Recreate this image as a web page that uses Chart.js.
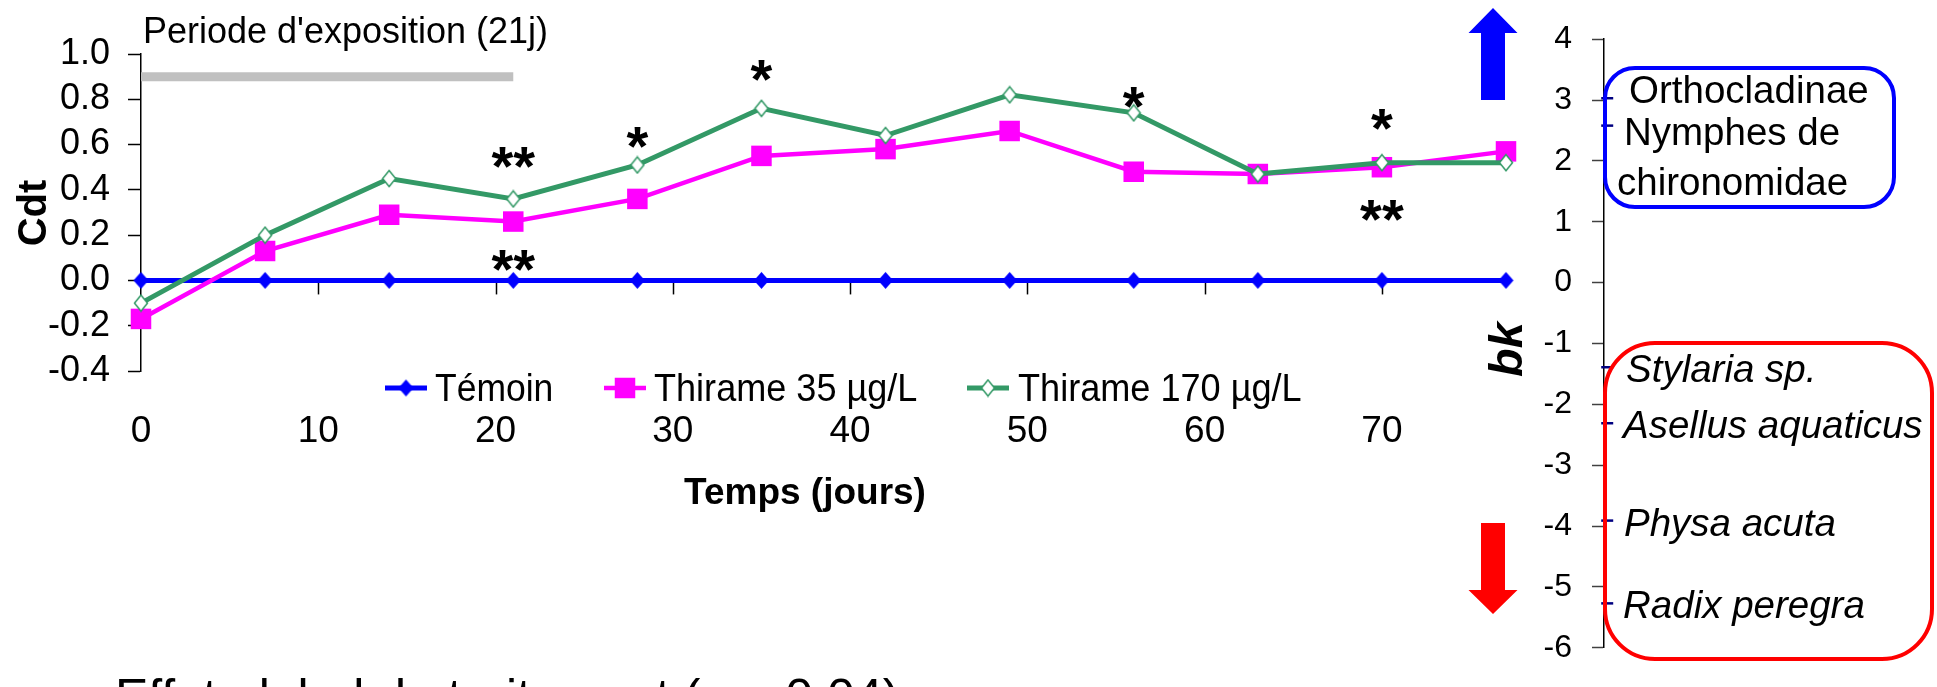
<!DOCTYPE html>
<html>
<head>
<meta charset="utf-8">
<script src="https://cdn.jsdelivr.net/npm/chart.js@4.4.1/dist/chart.umd.min.js"></script>
<style>
  html, body { margin: 0; padding: 0; background: #fff; overflow: hidden; }
  #wrap { position: relative; width: 1937px; height: 687px; }
  #cMain { position: absolute; left: 0; top: 0; }
  #cBk { position: absolute; left: 1400px; top: 0; }
</style>
</head>
<body>
<div id="wrap">
  <canvas id="cMain" width="1540" height="687"></canvas>
  <canvas id="cBk" width="537" height="687"></canvas>
</div>
<script>
// Données
const jours = [0, 7, 14, 21, 28, 35, 42, 49, 56, 63, 70, 77];
const temoin = [0, 0, 0, 0, 0, 0, 0, 0, 0, 0, 0, 0];
const thirame35 = [-0.17, 0.13, 0.29, 0.26, 0.36, 0.55, 0.58, 0.66, 0.48, 0.47, 0.50, 0.57];
const thirame170 = [-0.10, 0.20, 0.45, 0.36, 0.51, 0.76, 0.64, 0.82, 0.74, 0.47, 0.52, 0.52];
const expoJours = [0, 21];
const expoNiveau = [0.9, 0.9];
const ticksX = [0, 10, 20, 30, 40, 50, 60, 70];
const ticksCdt = [-0.4, -0.2, 0, 0.2, 0.4, 0.6, 0.8, 1.0];
const ticksBk = [-6, -5, -4, -3, -2, -1, 0, 1, 2, 3, 4];

// significativité (*)
const sigJours = [21, 21, 28, 35, 56, 70, 70];
const sigCdt = [0.545, 0.09, 0.63, 0.925, 0.81, 0.71, 0.31];
const sigTexte = ['**', '**', '*', '*', '*', '*', '**'];

// taxons et leur bk
const taxonsPos = ['Orthocladinae', 'Nymphes de', 'chironomidae'];
const bkPos = [3.03, 2.58];
const taxonsNeg = ['Stylaria sp.', 'Asellus aquaticus', 'Physa acuta', 'Radix peregra'];
const bkNeg = [-1.39, -2.31, -3.91, -5.27];

const normal = "'Liberation Sans', Arial, sans-serif";

// marqueurs losange
function losange(w, h, fond, trait, ep) {
  const c = document.createElement('canvas');
  c.width = Math.ceil(w + 2 * ep);
  c.height = Math.ceil(h + 2 * ep);
  const g = c.getContext('2d');
  const cx = c.width / 2, cy = c.height / 2;
  g.beginPath();
  g.moveTo(cx, cy - h / 2);
  g.lineTo(cx + w / 2, cy);
  g.lineTo(cx, cy + h / 2);
  g.lineTo(cx - w / 2, cy);
  g.closePath();
  g.fillStyle = fond;
  g.fill();
  if (trait) { g.lineWidth = ep; g.strokeStyle = trait; g.stroke(); }
  return c;
}
const diamBleu = losange(15, 17, '#0000FF', null, 1);
const diamVert = losange(13, 16, '#FFFFFF', '#339966', 1.5);

const pts = (ys) => jours.map((j, i) => ({ x: j, y: ys[i] }));

function texteCentre(ctx, txt, x, y) {
  const m = ctx.measureText(txt);
  const h = m.actualBoundingBoxAscent - m.actualBoundingBoxDescent;
  ctx.fillText(txt, x, y + h / 2);
}

// texte un peu resserré, aligné à gauche sur la ligne de base
function texteEtroit(ctx, txt, x, y, sx) {
  ctx.save();
  ctx.translate(x, y);
  ctx.scale(sx, 1);
  ctx.textAlign = 'left';
  ctx.fillText(txt, 0, 0);
  ctx.restore();
}

// Graphique principal
const decorA = {
  id: 'decorA',
  beforeDatasetsDraw(chart) {
    const { ctx, scales: { x, y } } = chart;
    const y0 = y.getPixelForValue(0);
    ctx.save();
    ctx.strokeStyle = '#000';
    ctx.lineWidth = 1.5;
    ticksX.forEach(v => {
      if (v === 0) return;
      const px = Math.round(x.getPixelForValue(v)) + 0.5;
      ctx.beginPath();
      ctx.moveTo(px, y0);
      ctx.lineTo(px, y0 + 14);
      ctx.stroke();
    });
    ctx.restore();
  },
  afterDraw(chart) {
    const { ctx, scales: { x, y } } = chart;
    ctx.save();
    ctx.fillStyle = '#000';
    ctx.textAlign = 'center';
    ctx.textBaseline = 'alphabetic';

    // étoiles
    ctx.font = 'bold 56px ' + normal;
    sigJours.forEach((j, i) => {
      texteCentre(ctx, sigTexte[i], x.getPixelForValue(j), y.getPixelForValue(sigCdt[i]));
    });

    // légende
    const leg = [
      { ds: 0, cx: 406, tx: 435, font: '39px ' + normal, sx: 0.91 },
      { ds: 1, cx: 625, tx: 654, font: '39px ' + normal, sx: 0.925 },
      { ds: 2, cx: 988, tx: 1018, font: '38px ' + normal, sx: 0.95 }
    ];
    const ly = 388;
    leg.forEach(l => {
      const d = chart.data.datasets[l.ds];
      ctx.strokeStyle = d.borderColor;
      ctx.lineWidth = d.borderWidth;
      ctx.beginPath();
      ctx.moveTo(l.cx - 21, ly);
      ctx.lineTo(l.cx + 21, ly);
      ctx.stroke();
      ctx.fillStyle = d.pointBackgroundColor || d.borderColor;
      Chart.helpers.drawPoint(ctx, { pointStyle: d.pointStyle, radius: d.pointRadius, rotation: 0, borderWidth: 0 }, l.cx, ly);
      ctx.fillStyle = '#000';
      ctx.font = l.font;
      texteEtroit(ctx, d.label, l.tx, 401, l.sx);
    });

    // titres
    ctx.textAlign = 'center';
    ctx.font = 'bold 37px ' + normal;
    ctx.fillText('Temps (jours)', 805, 504);
    ctx.save();
    ctx.translate(46, 213);
    ctx.rotate(-Math.PI / 2);
    ctx.font = 'bold 40px ' + normal;
    ctx.fillText('Cdt', 0, 0);
    ctx.restore();

    ctx.textAlign = 'left';
    ctx.font = '36px ' + normal;
    ctx.fillText("Periode d'exposition (21j)", 143, 43);

    ctx.font = '50px ' + normal;
    ctx.fillText('Effet global du traitement (p = 0.04)', 115, 714);
    ctx.restore();
  }
};

new Chart(document.getElementById('cMain'), {
  type: 'line',
  data: {
    datasets: [
      {
        label: 'Témoin', data: pts(temoin), order: 2,
        borderColor: '#0000FF', borderWidth: 5,
        pointStyle: diamBleu, pointRadius: 9, pointBackgroundColor: '#0000FF'
      },
      {
        label: 'Thirame 35 µg/L', data: pts(thirame35), order: 1,
        borderColor: '#FF00FF', borderWidth: 4.5,
        pointStyle: 'rect', pointRadius: 14.5, pointBorderWidth: 0, pointBackgroundColor: '#FF00FF'
      },
      {
        label: 'Thirame 170 µg/L', data: pts(thirame170), order: 0,
        borderColor: '#339966', borderWidth: 5,
        pointStyle: diamVert, pointRadius: 9, pointBackgroundColor: '#339966'
      },
      {
        label: 'exposition', data: expoJours.map((j, i) => ({ x: j, y: expoNiveau[i] })), order: 3,
        borderColor: '#C0C0C0', borderWidth: 9, pointRadius: 0, borderCapStyle: 'butt'
      }
    ]
  },
  options: {
    responsive: false,
    animation: false,
    devicePixelRatio: 1,
    layout: { padding: { top: 54, right: 34, left: 0, bottom: 0 } },
    elements: { line: { tension: 0 } },
    datasets: { line: { clip: false } },
    plugins: { legend: { display: false }, tooltip: { enabled: false } },
    scales: {
      x: {
        type: 'linear', min: 0, max: 77,
        afterBuildTicks: s => { s.ticks = ticksX.map(v => ({ value: v })); },
        afterFit: s => { s.height = 316; },
        grid: { display: false, drawTicks: false },
        border: { display: false },
        ticks: { color: '#000', padding: 39, maxRotation: 0, autoSkip: false, font: { family: normal, size: 37 } }
      },
      y: {
        min: -0.4, max: 1.0,
        afterBuildTicks: s => { s.ticks = ticksCdt.map(v => ({ value: v })); },
        afterFit: s => { s.width = 141; },
        grid: { drawOnChartArea: false, tickLength: 13, tickColor: '#000', tickWidth: 1.5 },
        border: { color: '#000', width: 1.5 },
        ticks: { color: '#000', padding: 18, autoSkip: false, font: { family: normal, size: 36 }, callback: v => v.toFixed(1) }
      }
    }
  },
  plugins: [decorA]
});

// Axe bk
const decorB = {
  id: 'decorB',
  afterDraw(chart) {
    const { ctx, scales: { y } } = chart;
    ctx.save();

    // flèches
    const fleche = (cx, base, pointe, bout, couleur) => {
      ctx.fillStyle = couleur;
      ctx.beginPath();
      ctx.moveTo(cx, pointe);
      ctx.lineTo(cx + 24.5, base);
      ctx.lineTo(cx + 12, base);
      ctx.lineTo(cx + 12, bout);
      ctx.lineTo(cx - 12, bout);
      ctx.lineTo(cx - 12, base);
      ctx.lineTo(cx - 24.5, base);
      ctx.closePath();
      ctx.fill();
    };
    fleche(93, 33, 8, 100, '#0000FF');
    fleche(93, 590, 614, 523, '#FF0000');

    // cadres
    ctx.lineWidth = 4;
    ctx.strokeStyle = '#0000FF';
    ctx.beginPath();
    ctx.roundRect(205, 68, 289, 139, 30);
    ctx.stroke();
    ctx.strokeStyle = '#FF0000';
    ctx.beginPath();
    ctx.roundRect(205, 343, 327, 316, 50);
    ctx.stroke();

    // noms des taxons
    ctx.fillStyle = '#000';
    ctx.textAlign = 'left';
    ctx.font = '38.5px ' + normal;
    const xPos = [229, 224, 217];
    const yPos = [103, 145, 195];
    taxonsPos.forEach((t, i) => ctx.fillText(t, xPos[i], yPos[i]));
    ctx.font = 'italic 38.5px ' + normal;
    const xNeg = [226, 223, 224, 223];
    taxonsNeg.forEach((t, i) => ctx.fillText(t, xNeg[i], y.getPixelForValue(bkNeg[i]) + 15));

    // titre bk
    ctx.font = 'italic bold 47px ' + normal;
    ctx.textAlign = 'center';
    ctx.translate(122, 349.5);
    ctx.rotate(-Math.PI / 2);
    ctx.fillText('bk', 0, 0);
    ctx.restore();
  }
};

new Chart(document.getElementById('cBk'), {
  type: 'scatter',
  data: {
    datasets: [{
      label: 'taxons',
      data: bkPos.concat(bkNeg).map(v => ({ x: 0, y: v })),
      pointStyle: 'line', pointRadius: 6, borderColor: '#000080', borderWidth: 2.5, clip: false
    }]
  },
  options: {
    responsive: false,
    animation: false,
    devicePixelRatio: 1,
    layout: { padding: { top: 25, bottom: 12.7, left: 0, right: 0 } },
    plugins: { legend: { display: false }, tooltip: { enabled: false } },
    scales: {
      x: { display: false, min: -1, max: 100 },
      y: {
        position: 'left', min: -6, max: 4,
        afterBuildTicks: s => { s.ticks = ticksBk.map(v => ({ value: v })); },
        afterFit: s => { s.width = 204; },
        grid: { drawOnChartArea: false, tickLength: 12, tickColor: '#404040', tickWidth: 1.5 },
        border: { color: '#000', width: 1.5 },
        ticks: { color: '#000', padding: 20, autoSkip: false, font: { family: normal, size: 32 } }
      }
    }
  },
  plugins: [decorB]
});
</script>
</body>
</html>
